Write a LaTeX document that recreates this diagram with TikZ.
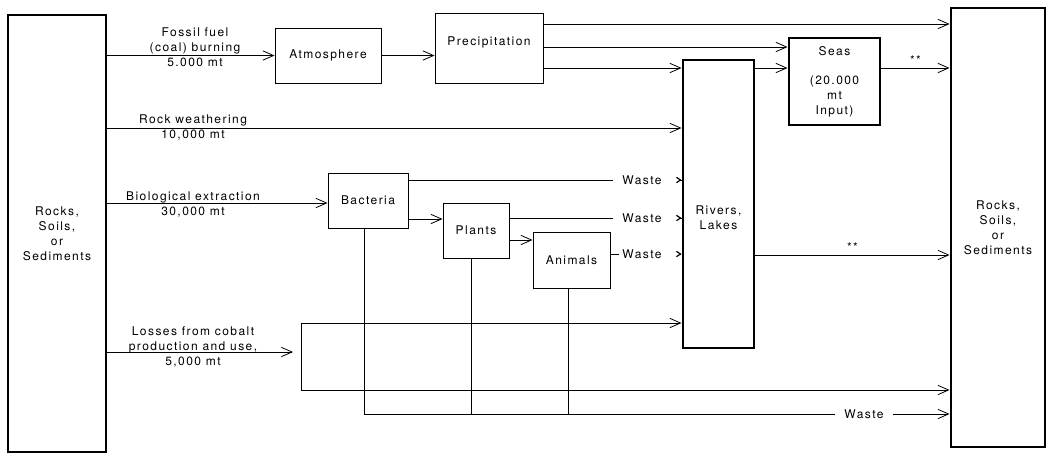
\documentclass[tikz,border=0pt]{standalone}
\usepackage{fontspec}
\setmainfont{TeX Gyre Heros}[LetterSpace=12]
\usetikzlibrary{arrows.meta,calc}
\begin{document}
\begin{tikzpicture}[x=0.75pt,y=-0.75pt,
  every node/.style={font=\fontsize{9}{11.25}\selectfont},
  thinbox/.style={draw, line width=0.7pt, inner sep=0pt},
  thickbox/.style={draw, line width=2.2pt, inner sep=0pt, align=center},
  ln/.style={line width=0.6pt},
  arr/.style={line width=0.6pt, -{Straight Barb[length=8pt,width=7pt,line width=0.6pt]}},
  tiparr/.style={line width=0.6pt, shorten <=8pt, -{Straight Barb[length=3pt,width=4pt,line width=0.9pt]}},
  lbl/.style={align=center, inner sep=0pt},
  wst/.style={inner ysep=0pt, inner xsep=7pt}
]
\useasboundingbox (0,0) rectangle (1048,454);

% boxes
\node[thickbox, minimum width=73.5pt, minimum height=327.75pt] (L) at (57,233.5) {Rocks,\\Soils,\\or\\Sediments};
\node[thickbox, minimum width=70.5pt, minimum height=329.25pt] (R) at (998,227.5) {Rocks,\\Soils,\\or\\Sediments};
\node[thinbox, minimum width=79.5pt, minimum height=41.25pt] (A) at (328,55.5) {Atmosphere};
\node[thinbox, minimum width=81pt, minimum height=52.5pt,
  label={[yshift=4.5pt]center:Precipitation}] (P) at (489,48) {};
\node[thickbox, minimum width=68.25pt, minimum height=65.25pt] (S) at (834.5,81.5) {Seas\\[10.5pt](20.000\\mt\\Input)};
\node[thickbox, minimum width=53.25pt, minimum height=216pt,
  label={[yshift=-10pt, align=center]center:{Rivers,\\Lakes}}] (RL) at (718.5,204) {};
\node[thinbox, minimum width=60pt, minimum height=41.25pt] (B) at (368,200.5) {Bacteria};
\node[thinbox, minimum width=49.5pt, minimum height=41.25pt] (Pl) at (476,230.5) {Plants};
\node[thinbox, minimum width=57.75pt, minimum height=42pt] (An) at (571.5,260) {Animals};

% flow labels
\node[lbl] (ff) at (195,47.5) {Fossil fuel\\(coal) burning\\5.000 mt};
\node[lbl] (rw) at (193,128) {Rock weathering\\10,000 mt};
\node[lbl] (be) at (193,205) {Biological extraction\\30,000 mt};
\node[lbl] (lc) at (193,347) {Losses from cobalt\\production and use,\\5,000 mt};

% top flows
\draw[arr] (L.east |- A.west) -- (A.west);
\draw[arr] (A.east) -- (P.west |- A.east);
\draw[arr] (P.east |- 0,24) -- (R.west |- 0,24);
\draw[arr] (P.east |- 0,47) -- (S.west |- 0,47);
\draw[arr] (P.east |- 0,68) -- (RL.west |- 0,68);
\draw[arr] (RL.east |- 0,68) -- (S.west |- 0,68);
\draw[arr] (S.east |- 0,68) -- node[above=1pt, inner sep=1pt] (st1) {**} (R.west |- 0,68);
\draw[arr] (L.east |- 0,128) -- (RL.west |- 0,128);
\draw[arr] (L.east |- 0,203) -- (B.west |- 0,203);
\draw[arr] (RL.east |- 0,255) -- node[above=1pt, inner sep=1pt] (st2) {**} (R.west |- 0,255);

% biology chain
\draw[arr] (B.east |- 0,219) -- (Pl.west |- 0,219);
\draw[arr] (Pl.east |- 0,240) -- (An.west |- 0,240);

% waste to rivers
\node[wst] (w1) at (642,180) {Waste};
\node[wst] (w2) at (642,218) {Waste};
\node[wst, inner xsep=2.5pt] (w3) at (642,254) {Waste};
\draw[ln] (B.east |- w1) -- (w1.west);
\draw[ln] (Pl.east |- w2) -- (w2.west);
\draw[ln] (An.east |- w3) -- (w3.west);
\draw[tiparr] (w1.east) -- (RL.west |- w1.east);
\draw[tiparr] (w2.east) -- (RL.west |- w2.east);
\draw[tiparr, shorten <=11pt] (w3.east) -- (RL.west |- w3.east);

% cobalt losses
\coordinate (c0) at (293,352);
\coordinate (bt) at (301,323);
\coordinate (bb) at (301,390);
\draw[arr] (L.east |- c0) -- (c0);
\draw[ln] (bt) -- (bb);
\draw[arr] (bt) -- (RL.west |- bt);
\draw[arr] (bb) -- (R.west |- bb);

% waste to sediments
\coordinate (wb) at (364,414);
\coordinate (wp) at (471,414);
\coordinate (wa) at (568,414);
\node[wst] (w4) at (864,414) {Waste};
\draw[ln] (B.south -| wb) -- (wb);
\draw[ln] (Pl.south -| wp) -- (wp);
\draw[ln] (An.south -| wa) -- (wa);
\draw[ln] (wb) -- (w4.west);
\draw[arr] (w4.east) -- (R.west |- w4.east);
\end{tikzpicture}
\end{document}
